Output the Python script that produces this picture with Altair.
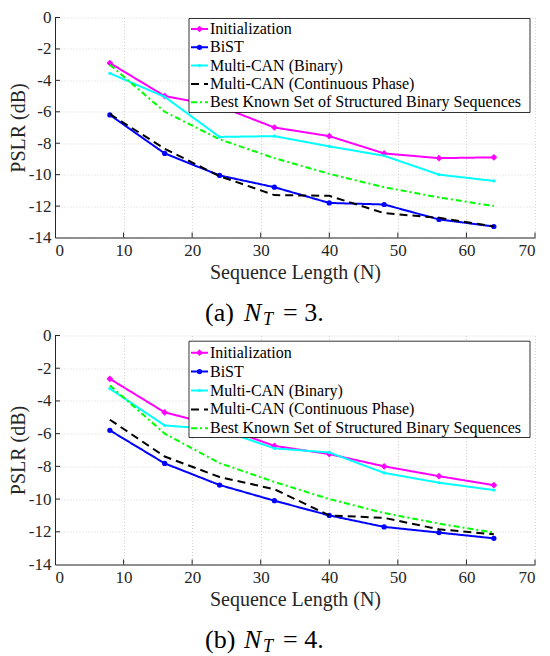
import altair as alt
import pandas as pd

# ---------------- data ----------------
N_vals = [8, 16, 24, 32, 40, 48, 56, 64]
series = [
    "Initialization",
    "BiST",
    "Multi-CAN (Binary)",
    "Multi-CAN (Continuous Phase)",
    "Best Known Set of Structured Binary Sequences",
]

# panel (a): N_T = 3
init_a = [-2.9, -5.0, -5.65, -7.0, -7.55, -8.65, -8.95, -8.9]
bist_a = [-6.2, -8.65, -10.05, -10.8, -11.8, -11.9, -12.85, -13.3]
mcb_a = [-3.55, -5.05, -7.6, -7.55, -8.2, -8.8, -10.0, -10.4]
mcc_a = [-6.15, -8.35, -10.1, -11.3, -11.35, -12.45, -12.75, -13.3]
best_a = [-3.0, -6.0, -7.75, -8.95, -9.95, -10.8, -11.45, -12.0]

# panel (b): N_T = 4
init_b = [-2.65, -4.7, -5.55, -6.75, -7.25, -8.0, -8.6, -9.15]
bist_b = [-5.8, -7.82, -9.14, -10.1, -11.0, -11.7, -12.05, -12.4]
mcb_b = [-3.25, -5.5, -5.75, -6.9, -7.15, -8.4, -9.0, -9.45]
mcc_b = [-5.15, -7.4, -8.65, -9.4, -11.0, -11.15, -11.85, -12.15]
best_b = [-3.05, -6.0, -7.8, -8.95, -10.0, -10.85, -11.5, -12.05]

x_ticks = [0, 10, 20, 30, 40, 50, 60, 70]
y_ticks = [0, -2, -4, -6, -8, -10, -12, -14]
cap_labels = ["(a)", "(b)"]
nt_values = ["3", "4"]

# ---------------- styles ----------------
colors = ["#ff00ff", "#0000ff", "#00ffff", "#000000", "#00ff00"]
dashes = [[1, 0], [1, 0], [1, 0], [8, 5], [6, 3, 2, 3]]
marker_series = series[:3]
shapes = ["diamond", "circle", "circle"]
sizes = [45, 10, 30]

FONT = "Liberation Serif, Times New Roman, serif"
INK = "#262626"
W = 480


def panel(values, cap, ntv, H, leg_top, leg_bot, row0, step, cap_base):
    rows = []
    for name, ys in zip(series, values):
        for n, v in zip(N_vals, ys):
            rows.append({"name": name, "N": n, "PSLR": v})
    df = pd.DataFrame(rows)

    X = alt.X(
        "N:Q",
        scale=alt.Scale(domain=[0, 70], nice=False, zero=False),
        title="Sequence Length (N)",
        axis=alt.Axis(values=x_ticks, labelExpr="datum.value + ''", ticks=False,
                      labelPadding=5, titlePadding=4, grid=True),
    )
    Y = alt.Y(
        "PSLR:Q",
        scale=alt.Scale(domain=[-14, 0], nice=False, zero=False),
        title="PSLR (dB)",
        axis=alt.Axis(values=y_ticks, labelExpr="datum.value + ''", ticks=False,
                      labelPadding=4, titlePadding=0, grid=True),
    )
    color = alt.Color("name:N", scale=alt.Scale(domain=series, range=colors), legend=None)
    dash = alt.StrokeDash("name:N", scale=alt.Scale(domain=series, range=dashes), legend=None)
    shape = alt.Shape("name:N", scale=alt.Scale(domain=marker_series, range=shapes), legend=None)
    size = alt.Size("name:O", scale=alt.Scale(domain=marker_series, range=sizes), legend=None)

    layers = []
    # inward tick marks
    layers.append(
        alt.Chart(pd.DataFrame({"N": x_ticks[1:]}))
        .mark_rule(color=INK, strokeWidth=1)
        .encode(x=X, y=alt.value(H), y2=alt.value(H - 5))
    )
    layers.append(
        alt.Chart(pd.DataFrame({"PSLR": y_ticks[:-1]}))
        .mark_rule(color=INK, strokeWidth=1)
        .encode(y=Y, x=alt.value(0), x2=alt.value(5))
    )
    for name in series:
        sub = alt.Chart(df).transform_filter(alt.datum.name == name)
        layers.append(
            sub.mark_line(strokeWidth=2).encode(x=X, y=Y, color=color, strokeDash=dash)
        )
        if name in marker_series:
            layers.append(
                sub.mark_point(filled=True, opacity=1).encode(
                    x=X, y=Y, color=color, shape=shape, size=size
                )
            )

    # legend
    leg_df = pd.DataFrame({"name": series, "i": list(range(len(series)))})
    leg = alt.Chart(leg_df).transform_calculate(ly=f"{row0} + datum.i * {step}")
    LY = alt.Y("ly:Q", scale=None, axis=None, title=None)
    layers.append(
        alt.Chart(pd.DataFrame({"k": [0]}))
        .mark_rect(fill="white", stroke="#000000", strokeWidth=0.8)
        .encode(x=alt.value(134), x2=alt.value(475), y=alt.value(leg_top), y2=alt.value(leg_bot))
    )
    layers.append(
        leg.mark_rule(strokeWidth=2).encode(
            x=alt.value(136), x2=alt.value(153), y=LY, color=color, strokeDash=dash
        )
    )
    layers.append(
        leg.transform_filter(alt.FieldOneOfPredicate(field="name", oneOf=marker_series))
        .mark_point(filled=True, opacity=1)
        .encode(x=alt.value(144.5), y=LY, color=color, shape=shape, size=size)
    )
    layers.append(
        leg.mark_text(align="left", baseline="middle", font=FONT, fontSize=16, color="#000000")
        .encode(x=alt.value(155), y=LY, text="name:N")
    )

    # caption  "(a)  N_T = 3."
    cdf = pd.DataFrame({"cap": [cap], "eq": ["= " + ntv + "."]})
    cbase = alt.Chart(cdf)
    layers.append(
        cbase.mark_text(align="left", baseline="alphabetic", font=FONT, fontSize=26, color="#000000")
        .encode(x=alt.value(150), y=alt.value(H + cap_base), text="cap:N")
    )
    layers.append(
        cbase.mark_text(align="left", baseline="alphabetic", font=FONT, fontSize=26,
                        fontStyle="italic", color="#000000")
        .encode(x=alt.value(189), y=alt.value(H + cap_base), text=alt.value("N"))
    )
    layers.append(
        cbase.mark_text(align="left", baseline="alphabetic", font=FONT, fontSize=18,
                        fontStyle="italic", color="#000000")
        .encode(x=alt.value(208), y=alt.value(H + cap_base + 4), text=alt.value("T"))
    )
    layers.append(
        cbase.mark_text(align="left", baseline="alphabetic", font=FONT, fontSize=26, color="#000000")
        .encode(x=alt.value(228), y=alt.value(H + cap_base), text="eq:N")
    )

    return alt.layer(*layers).properties(width=W, height=H)


p1 = panel([init_a, bist_a, mcb_a, mcc_a, best_a], cap_labels[0], nt_values[0],
           220, 1, 95, 11.5, 18.3, 83)
p2 = panel([init_b, bist_b, mcb_b, mcc_b, best_b], cap_labels[1], nt_values[1],
           229, 5.7, 102, 17.2, 18.9, 83)

chart = (
    alt.vconcat(p1, p2, spacing=98, bounds="flush")
    .properties(padding={"left": 0, "top": 0.5, "right": 5, "bottom": 0})
    .configure_view(stroke=None)
    .configure_axis(
        labelFont=FONT,
        titleFont=FONT,
        labelFontSize=17,
        titleFontSize=20,
        titleFontWeight="normal",
        labelColor=INK,
        titleColor=INK,
        domainColor=INK,
        domainWidth=1,
        gridColor="#d4d4d4",
        gridDash=[1, 2],
        gridWidth=1,
    )
)

chart.save("out.html", embed_options={"renderer": "svg", "actions": False})
